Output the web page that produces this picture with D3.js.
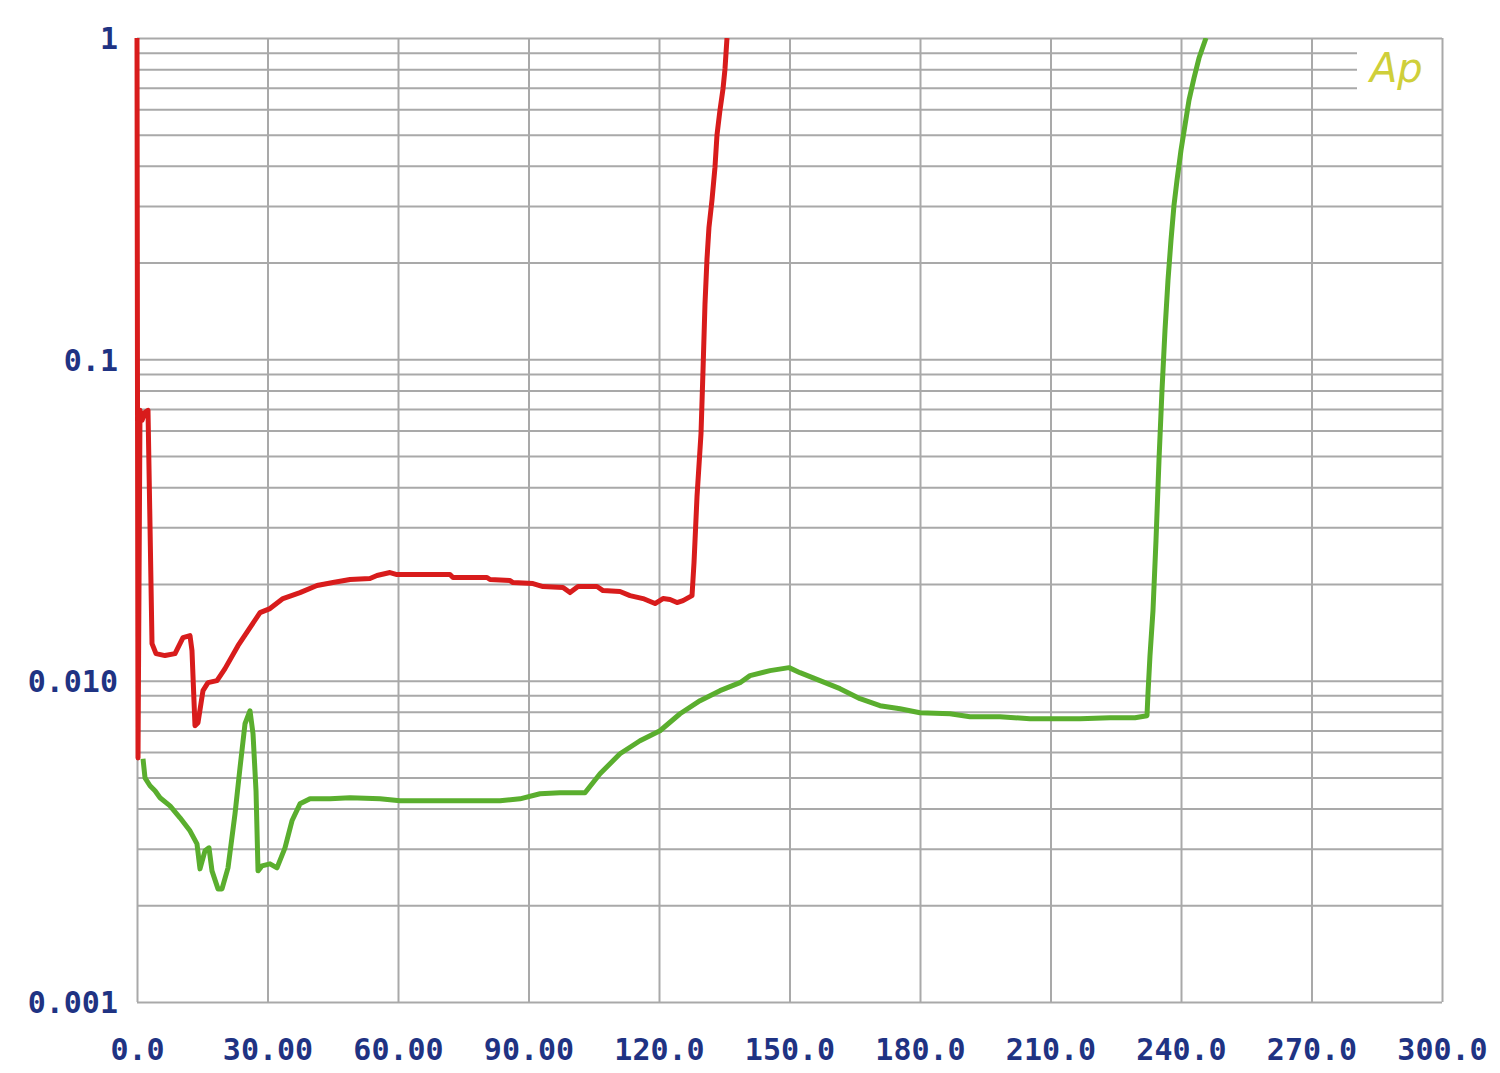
<!DOCTYPE html>
<html>
<head>
<meta charset="utf-8">
<script src="https://cdn.jsdelivr.net/npm/d3@7/dist/d3.min.js"></script>
<style>
  html, body { margin: 0; padding: 0; background: #ffffff; }
  svg { display: block; }
</style>
</head>
<body>
<svg id="chart" width="1500" height="1073"></svg>
<script>
// ---------------- data ----------------
const xTickValues = [0, 30, 60, 90, 120, 150, 180, 210, 240, 270, 300];
const xTickLabels = ["0.0", "30.00", "60.00", "90.00", "120.0", "150.0", "180.0", "210.0", "240.0", "270.0", "300.0"];
const yTickValues = [1, 0.1, 0.01, 0.001];
const yTickLabels = ["1", "0.1", "0.010", "0.001"];

// red trace
const redX = [0, 0.23, 0.69, 1.15, 1.84, 2.53, 2.99, 3.45, 4.37, 6.44, 8.74, 10.57, 12.18, 12.64, 13.33, 14.02, 15.17, 16.32, 18.39, 20.23, 23.22, 25.98, 28.28, 30.57, 33.56, 37.47, 41.38, 45.06, 48.97, 53.56, 55.17, 58.16, 59.77, 71.95, 72.64, 80.46, 81.15, 85.75, 86.44, 91.03, 93.33, 97.93, 99.54, 101.38, 105.75, 107.13, 111.03, 113.33, 116.32, 119.08, 120.92, 122.53, 124.14, 125.52, 127.59, 128.05, 128.74, 129.66, 130.11, 130.57, 131.03, 131.49, 132.18, 132.87, 133.33, 134.02, 134.71, 135.17, 135.63];
const redY = [1.0, 0.00575, 0.0694, 0.0646, 0.0684, 0.0694, 0.0304, 0.01304, 0.01214, 0.01197, 0.01214, 0.01361, 0.01381, 0.0124, 0.00724, 0.0074, 0.00931, 0.00986, 0.0100, 0.0109, 0.01285, 0.01463, 0.01628, 0.01676, 0.01801, 0.0188, 0.01977, 0.0202, 0.02064, 0.02079, 0.02124, 0.0217, 0.02139, 0.02139, 0.02094, 0.02094, 0.02064, 0.02049, 0.0202, 0.02005, 0.01963, 0.01949, 0.0188, 0.01963, 0.01963, 0.01907, 0.01894, 0.0184, 0.01801, 0.01738, 0.01801, 0.01788, 0.0175, 0.01775, 0.0184, 0.02331, 0.03743, 0.05883, 0.09176, 0.1484, 0.2049, 0.2578, 0.3129, 0.3963, 0.4986, 0.5967, 0.6938, 0.8007, 1.0];

// green trace
const greenX = [1.38, 1.84, 2.99, 4.14, 5.29, 7.59, 9.89, 12.18, 13.79, 14.48, 15.63, 16.55, 17.24, 18.62, 19.54, 20.92, 22.53, 23.68, 24.83, 25.98, 26.67, 27.36, 27.82, 28.74, 30.57, 32.18, 34.02, 35.63, 37.47, 39.77, 44.37, 48.97, 55.86, 60.46, 67.36, 76.55, 83.45, 88.05, 92.64, 97.24, 102.99, 106.44, 111.03, 115.63, 120.23, 124.83, 129.43, 134.02, 138.62, 140.92, 145.52, 149.89, 152.41, 157.01, 161.61, 166.21, 170.8, 175.4, 180.0, 186.9, 191.49, 198.39, 205.29, 212.18, 216.78, 223.68, 229.43, 232.18, 232.41, 232.87, 233.56, 234.25, 234.94, 235.63, 236.32, 237.01, 237.7, 238.39, 239.08, 240.0, 240.92, 241.84, 242.99, 244.14, 245.75];
const greenY = [0.005715, 0.004985, 0.004709, 0.004543, 0.00432, 0.004078, 0.003742, 0.003409, 0.003106, 0.002596, 0.002954, 0.003019, 0.002559, 0.002249, 0.002249, 0.002615, 0.003851, 0.005358, 0.007345, 0.008062, 0.006838, 0.004543, 0.002559, 0.002653, 0.002691, 0.002615, 0.003019, 0.003664, 0.004137, 0.004288, 0.004288, 0.00432, 0.004288, 0.004227, 0.004227, 0.004227, 0.004227, 0.004288, 0.004446, 0.004478, 0.004478, 0.005131, 0.005924, 0.006501, 0.006985, 0.007891, 0.008664, 0.009308, 0.009857, 0.010366, 0.010745, 0.010978, 0.010591, 0.0100, 0.009443, 0.008788, 0.008359, 0.008181, 0.007949, 0.007891, 0.007723, 0.007723, 0.007614, 0.007614, 0.007614, 0.007669, 0.007669, 0.00778, 0.009109, 0.011968, 0.01652, 0.027298, 0.04845, 0.080071, 0.12311, 0.17622, 0.23481, 0.30179, 0.36103, 0.44771, 0.5358, 0.64089, 0.75049, 0.86631, 1.0];

const logoText = "Ap";

(function () {
  // ---------------- layout ----------------
  const pL = 137, pR = 1442, pT = 38, pB = 1002;
  const svg = d3.select("#chart");

  const x = d3.scaleLinear().domain([0, 300]).range([pL, pR]);
  const y = d3.scaleLog().domain([0.001, 1]).range([pB, pT]);

  const gridColor = "#a9a9a9";
  const labelColor = "#1f3383";

  const yGridValues = [];
  for (let k = -3; k < 0; k++) {
    for (let m = 1; m <= 9; m++) yGridValues.push(m * Math.pow(10, k));
  }
  yGridValues.push(1);

  const shortLines = [0.9, 0.8, 0.7];
  const fullLines = yGridValues.filter(v => !shortLines.some(s => Math.abs(s - v) < 1e-9));

  const gy = svg.append("g")
    .attr("transform", `translate(${pL},0)`)
    .call(d3.axisLeft(y).tickValues(fullLines).tickSize(-(pR - pL)).tickFormat(""));
  gy.select(".domain").remove();
  gy.selectAll(".tick line").attr("stroke", gridColor).attr("stroke-width", 2);

  const logoStop = 1357;
  const gy2 = svg.append("g")
    .attr("transform", `translate(${pL},0)`)
    .call(d3.axisLeft(y).tickValues(shortLines).tickSize(-(logoStop - pL)).tickFormat(""));
  gy2.select(".domain").remove();
  gy2.selectAll(".tick line").attr("stroke", gridColor).attr("stroke-width", 2);

  const gx = svg.append("g")
    .attr("transform", `translate(0,${pB})`)
    .call(d3.axisBottom(x).tickValues(xTickValues).tickSize(-(pB - pT)).tickFormat(""));
  gx.select(".domain").remove();
  gx.selectAll(".tick line").attr("stroke", gridColor).attr("stroke-width", 2);

  const labelFont = "'DejaVu Sans Mono', 'Liberation Mono', monospace";
  const ax = svg.append("g")
    .attr("transform", `translate(0,${pB})`)
    .call(d3.axisBottom(x).tickValues(xTickValues).tickSize(0).tickPadding(0)
      .tickFormat((d, i) => xTickLabels[i]));
  ax.select(".domain").remove();
  ax.selectAll(".tick text")
    .attr("y", 47).attr("dy", "0.35em")
    .attr("fill", labelColor)
    .style("font-family", labelFont).style("font-size", "30px").style("font-weight", "bold");

  const ay = svg.append("g")
    .attr("transform", `translate(${pL},0)`)
    .call(d3.axisLeft(y).tickValues(yTickValues).tickSize(0).tickPadding(0)
      .tickFormat((d, i) => yTickLabels[i]));
  ay.select(".domain").remove();
  ay.selectAll(".tick text")
    .attr("x", -19).attr("dy", "0.36em")
    .attr("fill", labelColor)
    .style("font-family", labelFont).style("font-size", "30px").style("font-weight", "bold");

  svg.append("text")
    .attr("x", 1370).attr("y", 82)
    .text(logoText)
    .attr("fill", "#cfcf3a")
    .style("font-family", "'DejaVu Sans', sans-serif")
    .style("font-style", "italic")
    .style("font-weight", "normal")
    .style("font-size", "40px");

  const line = d3.line().x(d => x(d[0])).y(d => y(d[1]));
  const greenData = greenX.map((v, i) => [v, greenY[i]]);
  const redData = redX.map((v, i) => [v, redY[i]]);

  svg.append("clipPath").attr("id", "plotclip")
    .append("rect").attr("x", pL - 5).attr("y", pT).attr("width", pR - pL + 10).attr("height", pB - pT);

  svg.append("path").datum(greenData)
    .attr("d", line)
    .attr("fill", "none").attr("stroke", "#5aae2e").attr("stroke-width", 5)
    .attr("stroke-linejoin", "round")
    .attr("clip-path", "url(#plotclip)");

  svg.append("path").datum(redData)
    .attr("d", line)
    .attr("fill", "none").attr("stroke", "#d81c1c").attr("stroke-width", 5)
    .attr("stroke-linejoin", "round")
    .attr("clip-path", "url(#plotclip)");
})();
</script>
</body>
</html>
